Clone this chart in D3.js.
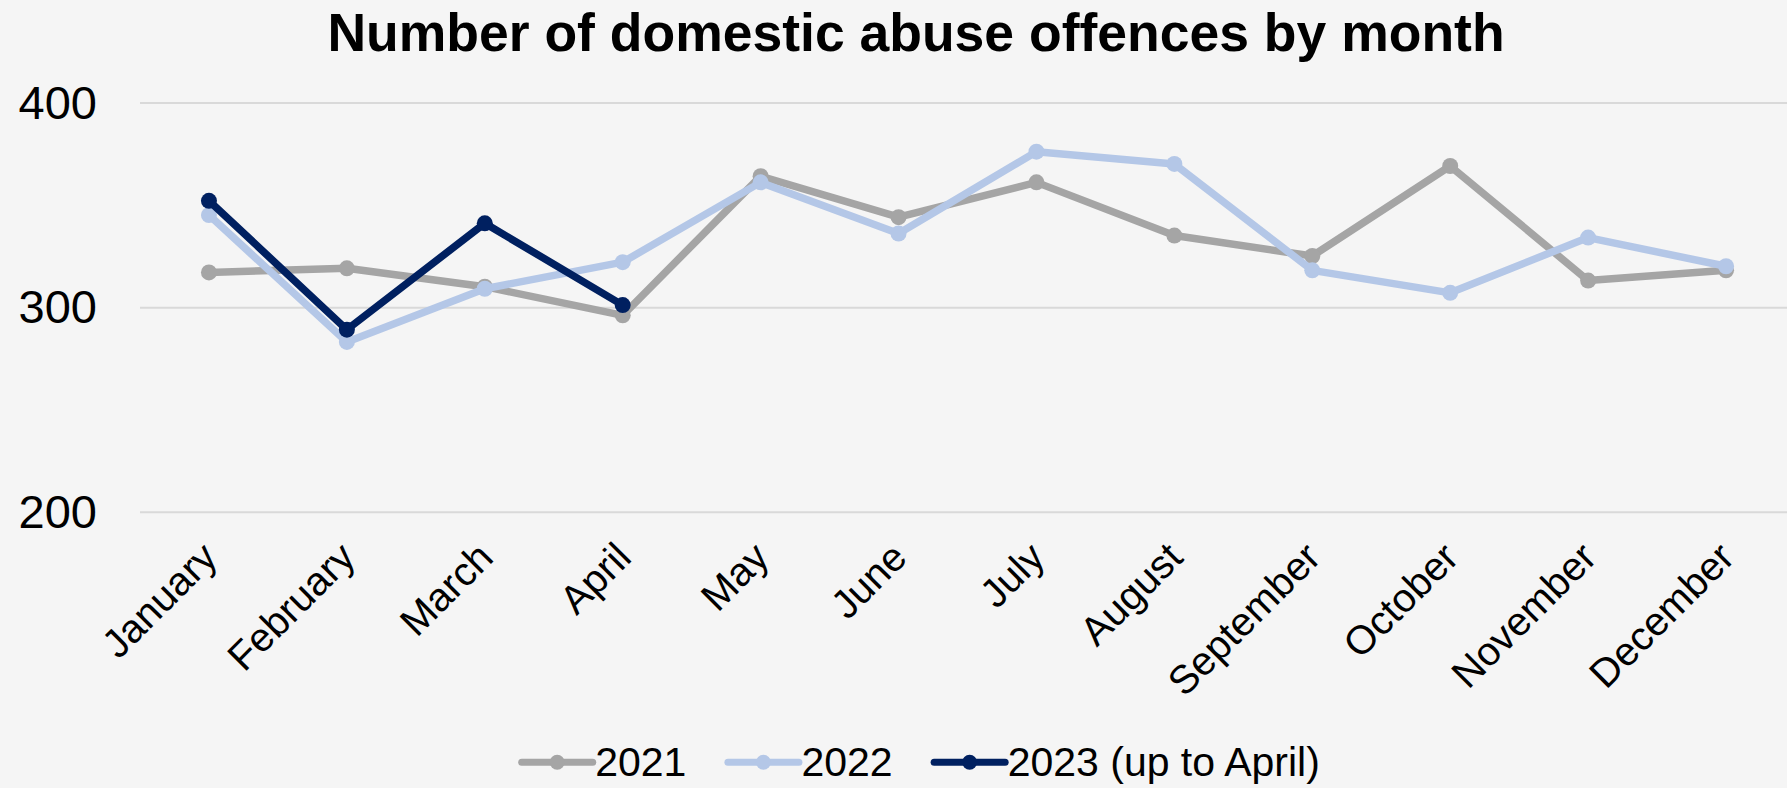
<!DOCTYPE html>
<html>
<head>
<meta charset="utf-8">
<script src="https://cdn.jsdelivr.net/npm/d3@7"></script>
<style>
  html, body { margin: 0; padding: 0; background: #f5f5f5; }
  svg { display: block; font-family: "Liberation Sans", Arial, sans-serif; }
</style>
</head>
<body>
<svg id="chart" width="1787" height="788"></svg>
<script>
// Monthly domestic abuse offences
const months = ["January", "February", "March", "April", "May", "June",
  "July", "August", "September", "October", "November", "December"];
const values2021 = [317, 319, 310, 296, 364, 344, 361, 335, 325, 369, 313, 318];
const values2022 = [345, 283, 309, 322, 361, 336, 376, 370, 318, 307, 334, 320];
const values2023 = [352, 289, 341, 301];
const yTicks = [200, 300, 400];

const seriesNames = ["2021", "2022", "2023 (up to April)"];
const seriesColors = ["#a5a5a5", "#b4c7e7", "#002060"];
const seriesValues = [values2021, values2022, values2023];

const svg = d3.select("#chart");
const W = 1787, H = 788;

svg.append("rect").attr("width", W).attr("height", H).attr("fill", "#f5f5f5");

const x = d3.scalePoint().domain(months).range([140, 1795]).padding(0.5);
const y = d3.scaleLinear().domain([200, 400]).range([511.7, 102.6]);

// Title
svg.append("text")
  .attr("x", 916).attr("y", 50.5)
  .attr("text-anchor", "middle")
  .attr("font-size", 53.5).attr("font-weight", "bold")
  .attr("fill", "#000")
  .text("Number of domestic abuse offences by month");

// Horizontal gridlines and y labels
const yAxis = d3.axisLeft(y).tickValues(yTicks).tickSize(-(1795 - 140)).tickPadding(43);
const gy = svg.append("g").attr("transform", "translate(140,0)").call(yAxis);
gy.select(".domain").remove();
gy.selectAll(".tick line").attr("stroke", "#d9d9d9").attr("stroke-width", 2);
gy.selectAll(".tick text")
  .attr("font-size", 47).attr("fill", "#000")
  .attr("font-family", "Liberation Sans, Arial, sans-serif")
  .attr("dy", "0.33em");

// Month labels, rotated
const xAxis = d3.axisBottom(x).tickSize(0).tickPadding(0);
const gx = svg.append("g").attr("transform", "translate(0,511.7)").call(xAxis);
gx.select(".domain").remove();
gx.selectAll(".tick text")
  .attr("font-size", 40).attr("fill", "#000")
  .attr("font-family", "Liberation Sans, Arial, sans-serif")
  .attr("text-anchor", "end")
  .attr("dy", null)
  .attr("y", null)
  .attr("transform", "translate(10,48) rotate(-45)");

// Series lines and markers
const line = d3.line().x((d, i) => x(months[i])).y(d => y(d));

seriesValues.forEach((vals, k) => {
  const g = svg.append("g");
  g.append("path")
    .datum(vals)
    .attr("d", line)
    .attr("fill", "none")
    .attr("stroke", seriesColors[k])
    .attr("stroke-width", 7.5)
    .attr("stroke-linejoin", "round");
  g.selectAll("circle")
    .data(vals)
    .join("circle")
    .attr("cx", (d, i) => x(months[i]))
    .attr("cy", d => y(d))
    .attr("r", 8)
    .attr("fill", seriesColors[k]);
});

// Legend
const legend = svg.append("g");
let lx = 521.7;
const ly = 762.3;
seriesNames.forEach((name, k) => {
  legend.append("line")
    .attr("x1", lx).attr("x2", lx + 71)
    .attr("y1", ly).attr("y2", ly)
    .attr("stroke", seriesColors[k]).attr("stroke-width", 7)
    .attr("stroke-linecap", "round");
  legend.append("circle")
    .attr("cx", lx + 35.5).attr("cy", ly).attr("r", 7.5)
    .attr("fill", seriesColors[k]);
  const t = legend.append("text")
    .attr("x", lx + 73.5).attr("y", 776)
    .attr("font-size", 41).attr("fill", "#000")
    .text(name);
  lx += 73.5 + t.node().getComputedTextLength() + 41.5;
});
</script>
</body>
</html>
